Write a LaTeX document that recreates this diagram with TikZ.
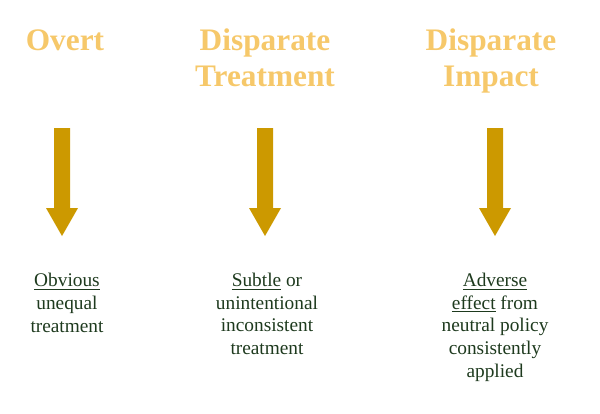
\documentclass[tikz,border=0pt]{standalone}
\usepackage{fontspec}
\setmainfont{Liberation Serif}
\usetikzlibrary{calc}
\definecolor{titlec}{HTML}{F6C86A}
\definecolor{arrowc}{HTML}{CC9900}
\definecolor{bodyc}{HTML}{1E3A1E}
\begin{document}
\begin{tikzpicture}[x=0.75pt,y=-0.75pt,
  title/.style={align=center,anchor=base,inner sep=0pt,text=titlec,
    font=\fontsize{23.5}{27}\selectfont\bfseries},
  body/.style={align=center,anchor=base,inner sep=0pt,text=bodyc,
    font=\fontsize{14.5}{16.9}\selectfont},
  bigarrow/.style={fill=arrowc,draw=none}]
\useasboundingbox (0,0) rectangle (600,414);
% titles (anchor = baseline of last line)
\node[title] (t1) at (65,50) {Overt};
\node[title] (t2) at (265,86) {Disparate\\Treatment};
\node[title] (t3) at (491,86) {Disparate\\Impact};
% arrows
\coordinate (a1) at (62,128);
\coordinate (a2) at (265,128);
\coordinate (a3) at (495,128);
\foreach \a in {a1,a2,a3}{
  \fill[bigarrow] ($(\a)+(-8,0)$) -- ($(\a)+(8,0)$) -- ($(\a)+(8,80)$) -- ($(\a)+(16,80)$)
    -- ($(\a)+(0,108)$) -- ($(\a)+(-16,80)$) -- ($(\a)+(-8,80)$) -- cycle;
}
% body texts (anchor = baseline of last line)
\node[body] (b1) at (67,332) {\underline{Obvious}\\unequal\\treatment};
\node[body] (b2) at (267,354.5) {\underline{Subtle} or\\unintentional\\inconsistent\\treatment};
\node[body] (b3) at (495,377) {\underline{Adverse}\\\underline{effect} from\\neutral policy\\consistently\\applied};
\end{tikzpicture}
\end{document}
